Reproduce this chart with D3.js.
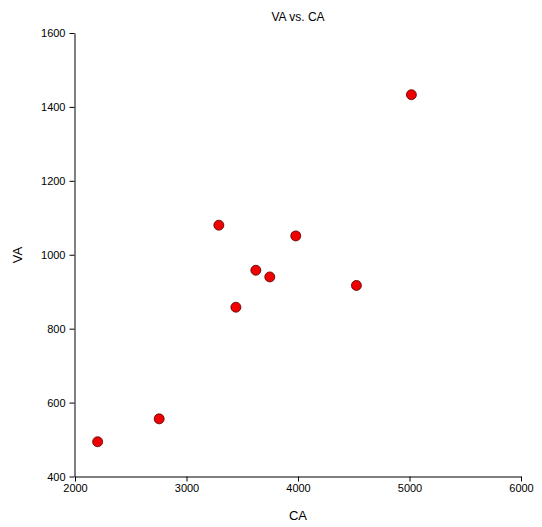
<!DOCTYPE html>
<html><head><meta charset="utf-8">
<script src="https://cdn.jsdelivr.net/npm/d3@7"></script>
<style>body{margin:0;background:#fff;} text{font-family:"Liberation Sans",Arial,sans-serif;}</style>
</head><body>
<svg id="c" width="542" height="527"></svg>
<script>
const caValues = [2203, 2755, 3290, 3980, 3622, 3747, 4524, 3443, 5017];
const vaValues = [494, 556, 1080, 1051, 958, 940, 917, 858, 1433];
const xTicks = [2000, 3000, 4000, 5000, 6000];
const yTicks = [400, 600, 800, 1000, 1200, 1400, 1600];
const title = "VA vs. CA", xLabel = "CA", yLabel = "VA";

const svg = d3.select("#c");
const x = d3.scaleLinear().domain([2000, 6000]).range([75, 521]);
const y = d3.scaleLinear().domain([400, 1600]).range([476.5, 33]);

svg.append("g").attr("transform","translate(0,476.5)")
  .call(d3.axisBottom(x).tickValues(xTicks).tickSize(5).tickSizeOuter(0).tickPadding(3).tickFormat(d3.format("d")))
  .call(g=>{g.selectAll("text").attr("font-size",11).attr("fill","#000").attr("font-family","Liberation Sans, Arial");g.selectAll("line,path").attr("stroke","#000");});
svg.append("g").attr("transform","translate(74.5,0)")
  .call(d3.axisLeft(y).tickValues(yTicks).tickSize(5).tickSizeOuter(0).tickPadding(4).tickFormat(d3.format("d")))
  .call(g=>{g.selectAll("text").attr("font-size",11).attr("fill","#000").attr("font-family","Liberation Sans, Arial");g.selectAll("line,path").attr("stroke","#000");});

svg.append("text").attr("x",298).attr("y",21).attr("text-anchor","middle").attr("font-size",12).text(title);
svg.append("text").attr("x",298).attr("y",520).attr("text-anchor","middle").attr("font-size",13).text(xLabel);
svg.append("text").attr("transform","translate(22,255) rotate(-90)").attr("text-anchor","middle").attr("font-size",13).text(yLabel);

svg.append("g").selectAll("circle").data(caValues.map((c,i)=>({c, v: vaValues[i]})))
  .join("circle").attr("cx",d=>x(d.c)).attr("cy",d=>y(d.v)).attr("r",5)
  .attr("fill","#f00000").attr("stroke","#500000").attr("stroke-width",0.8);
</script>
</body></html>
